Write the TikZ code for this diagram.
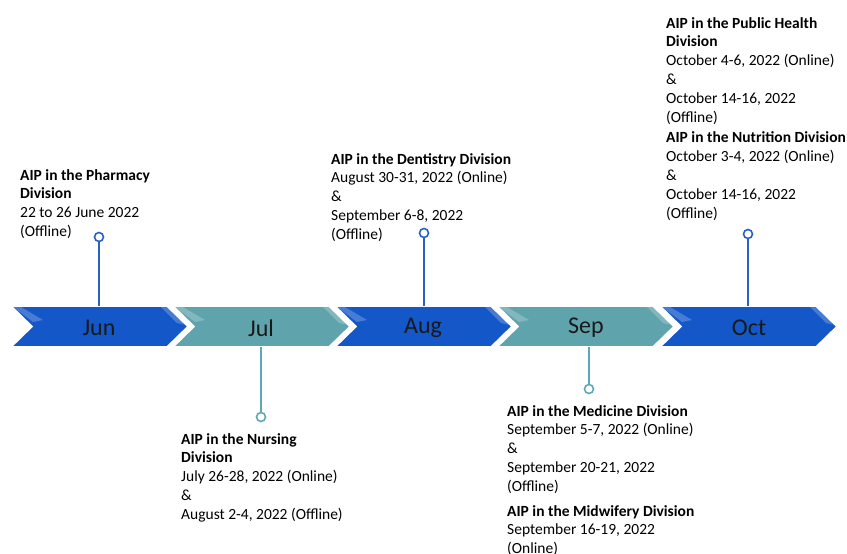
\documentclass[tikz,border=0pt]{standalone}
\usepackage{fontspec}
\setmainfont{Carlito}
\usetikzlibrary{calc}
\definecolor{cblue}{RGB}{20,87,200}
\definecolor{cteal}{RGB}{95,164,172}
\definecolor{sblue}{RGB}{40,96,196}
\definecolor{steal}{RGB}{92,168,180}
\tikzset{
  chev/.style={draw=white, line width=1.6pt, line join=miter},
  month/.style={font=\fontsize{24}{28}\selectfont, text=black!90},
  info/.style={anchor=north west, align=left, inner sep=0pt, font=\fontsize{15.5}{18.8}\selectfont},
  stem/.style={line width=1.3pt},
  dot/.style={circle, draw, fill=white, line width=1.6pt, minimum size=9pt, inner sep=0pt},
}
\newcommand{\chevron}[3]{%
  % #1 = left x, #2 = colour, #3 = name
  \draw[chev, fill=#2] (#1,306) -- (#1+156,306) -- (#1+177,326.5) -- (#1+156,347) -- (#1,347) -- (#1+21,326.5) -- cycle;
  \fill[white, opacity=0.22] (#1+2,307) -- (#1+10,307) -- (#1+32,320) -- (#1+22,322) -- cycle;
  \fill[white, opacity=0.22] (#1+150,307) -- (#1+157,307) -- (#1+175,325) -- (#1+166,323) -- cycle;
  \coordinate (#3top) at (#1+88,306);
  \coordinate (#3bot) at (#1+88,347);
}
\begin{document}
\begin{tikzpicture}[x=1pt,y=-1pt]
\useasboundingbox (0,0) rectangle (847,554);
\fill[white] (0,0) rectangle (847,554);

% chevrons
\chevron{11}{cblue}{jun}
\chevron{173}{cteal}{jul}
\chevron{335}{cblue}{aug}
\chevron{497}{cteal}{sep}
\chevron{660}{cblue}{oct}

\node[month] (mjun) at (99,328) {Jun};
\node[month] (mjul) at (261,328) {Jul};
\node[month] (maug) at (423,328) {Aug};
\node[month] (msep) at (586,328) {Sep};
\node[month] (moct) at (749,328) {Oct};

% dots
\node[dot, draw=sblue] (djun) at (99,237) {};
\node[dot, draw=steal] (djul) at (261,417) {};
\node[dot, draw=sblue] (daug) at (424,233) {};
\node[dot, draw=steal] (dsep) at (589,389) {};
\node[dot, draw=sblue] (doct) at (748,234) {};

\coordinate (tjun) at (99,306);
\coordinate (tjul) at (261,347);
\coordinate (taug) at (424,306);
\coordinate (tsep) at (589,347);
\coordinate (toct) at (748,306);

\draw[stem, sblue] (djun) -- (tjun);
\draw[stem, steal] (djul) -- (tjul);
\draw[stem, sblue] (daug) -- (taug);
\draw[stem, steal] (dsep) -- (tsep);
\draw[stem, sblue] (doct) -- (toct);

% texts
\node[info] (xjun) at (20,169) {\textbf{AIP in the Pharmacy}\\\textbf{Division}\\22 to 26 June 2022\\(Offline)};
\node[info] (xaug) at (331,153) {\textbf{AIP in the Dentistry Division}\\August 30-31, 2022 (Online)\\\&\\September 6-8, 2022\\(Offline)};
\node[info] (xoct) at (666,17) {\textbf{AIP in the Public Health}\\\textbf{Division}\\October 4-6, 2022 (Online)\\\&\\October 14-16, 2022\\(Offline)\\[2pt]\textbf{AIP in the Nutrition Division}\\October 3-4, 2022 (Online)\\\&\\October 14-16, 2022\\(Offline)};
\node[info] (xjul) at (181,433) {\textbf{AIP in the Nursing}\\\textbf{Division}\\July 26-28, 2022 (Online)\\\&\\August 2-4, 2022 (Offline)};
\node[info] (xsep) at (507,405) {\textbf{AIP in the Medicine Division}\\September 5-7, 2022 (Online)\\\&\\September 20-21, 2022\\(Offline)\\[6pt]\textbf{AIP in the Midwifery Division}\\September 16-19, 2022\\(Online)};
\end{tikzpicture}
\end{document}
